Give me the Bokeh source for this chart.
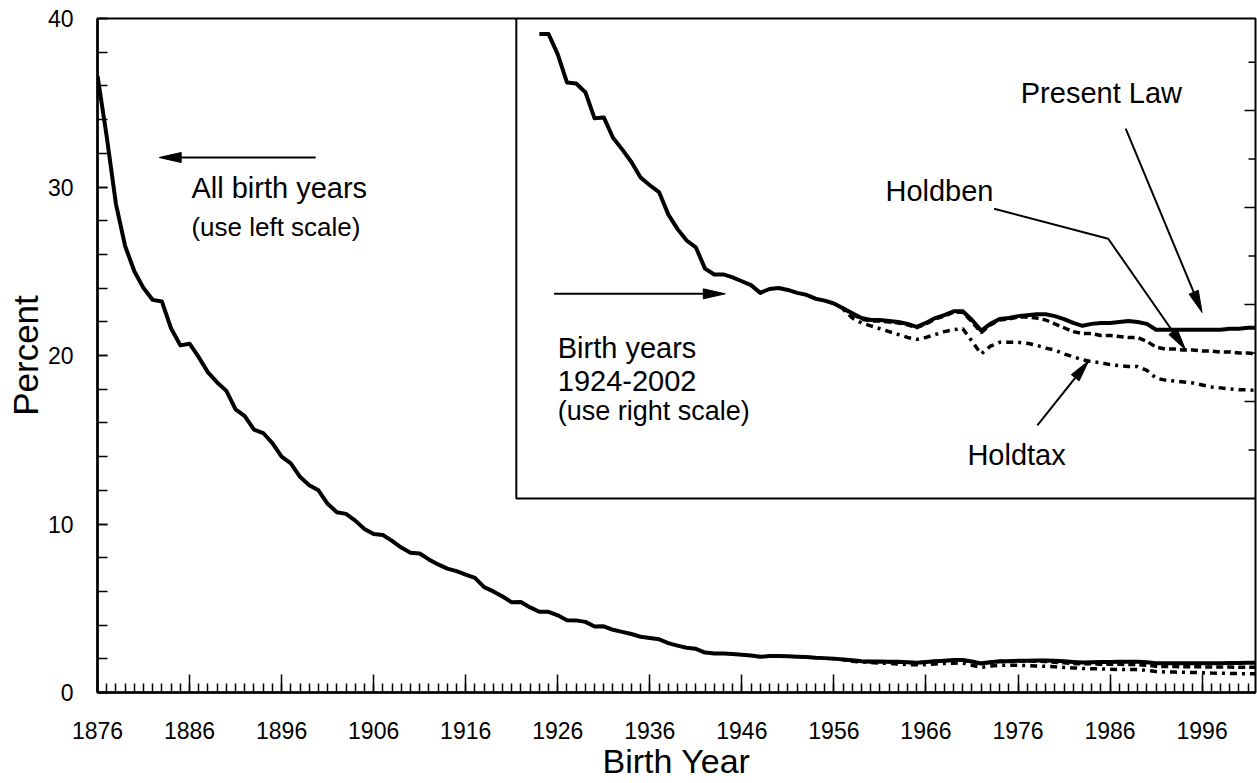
import math
from bokeh.plotting import figure
from bokeh.models import Range1d, FixedTicker, Label
from bokeh.embed import file_html
from bokeh.resources import INLINE

FONT = "Liberation Sans"

# ---------------- data ----------------
YEARS = list(range(1876, 2003))
PRESENT_LAW = [
    36.6, 33.0, 29.0, 26.5, 25.0, 24.0, 23.3, 23.2, 21.6, 20.6,   # 1876-1885
    20.7, 19.9, 19.0, 18.4, 17.9, 16.8, 16.4, 15.6, 15.4, 14.8,   # 1886-1895
    14.0, 13.6, 12.8, 12.3, 12.0, 11.2, 10.7, 10.6, 10.2, 9.7,    # 1896-1905
    9.4, 9.35, 9.0, 8.6, 8.3, 8.25, 7.9, 7.6, 7.35, 7.2,          # 1906-1915
    7.0, 6.8, 6.25, 6.0, 5.7, 5.35, 5.37, 5.05, 4.79, 4.79,       # 1916-1925
    4.58, 4.29, 4.28, 4.19, 3.92, 3.93, 3.72, 3.60, 3.47, 3.31,   # 1926-1935
    3.23, 3.16, 2.93, 2.78, 2.66, 2.59, 2.37, 2.31, 2.31, 2.28,   # 1936-1945
    2.24, 2.20, 2.12, 2.16, 2.17, 2.15, 2.12, 2.10, 2.06, 2.04,   # 1946-1955
    2.01, 1.96, 1.91, 1.86, 1.84, 1.84, 1.83, 1.82, 1.80, 1.77,   # 1956-1965
    1.81, 1.86, 1.89, 1.93, 1.93, 1.84, 1.73, 1.80, 1.85, 1.86,   # 1966-1975
    1.88, 1.89, 1.90, 1.90, 1.88, 1.85, 1.81, 1.78, 1.80, 1.81,   # 1976-1985
    1.81, 1.82, 1.83, 1.82, 1.80, 1.74, 1.74, 1.74, 1.74, 1.74,   # 1986-1995
    1.74, 1.74, 1.74, 1.75, 1.75, 1.76, 1.76,                     # 1996-2002
]
HOLD_YEARS = list(range(1957, 2003))
HOLDBEN = [
    1.96, 1.90, 1.85, 1.83, 1.83, 1.82, 1.81, 1.79, 1.76,         # 1957-1965
    1.80, 1.85, 1.88, 1.92, 1.92, 1.82, 1.71, 1.79, 1.84, 1.85,   # 1966-1975
    1.87, 1.87, 1.86, 1.84, 1.80, 1.76, 1.72, 1.70, 1.70, 1.68,   # 1976-1985
    1.68, 1.67, 1.66, 1.66, 1.62, 1.56, 1.54, 1.54, 1.53, 1.53,   # 1986-1995
    1.52, 1.52, 1.51, 1.51, 1.50, 1.50, 1.49,                     # 1996-2002
]
HOLDTAX = [
    1.95, 1.86, 1.81, 1.78, 1.75, 1.72, 1.69, 1.66, 1.64,         # 1957-1965
    1.66, 1.69, 1.72, 1.74, 1.75, 1.62, 1.49, 1.57, 1.61, 1.61,   # 1966-1975
    1.61, 1.60, 1.58, 1.55, 1.53, 1.49, 1.46, 1.43, 1.41, 1.40,   # 1976-1985
    1.38, 1.37, 1.36, 1.36, 1.32, 1.24, 1.22, 1.21, 1.20, 1.19,   # 1986-1995
    1.17, 1.15, 1.14, 1.13, 1.12, 1.12, 1.11,                     # 1996-2002
]
INSET_FIRST_YEAR = 1924

X_MAJOR_TICKS = list(range(1876, 2000, 10))
Y_MAJOR_TICKS = [0, 10, 20, 30, 40]
Y_MINOR_TICKS = list(range(0, 41, 2))
RIGHT_MAJOR_TICKS = [1, 2, 3, 4]
RIGHT_MINOR_TICKS = [0.5, 1.5, 2.5, 3.5, 4.5]

# ---------------- layout ----------------
W, H = 1257, 783
B_LEFT, B_RIGHT, B_TOP, B_BOTTOM = 97, 2, 18, 91
FRAME_W = W - B_LEFT - B_RIGHT
FRAME_H = H - B_TOP - B_BOTTOM
X_START, X_END = 1876, 2001.8
Y_START, Y_END = 0, 40
INSET_TOP = 4.95          # right-scale value at top of frame
INSET_FRAC = 0.712        # share of frame height covered by the inset box
INSET_BOTTOM = INSET_TOP - INSET_TOP / INSET_FRAC
INSET_LEFT_YEAR = 1921.5

PXX = FRAME_W / (X_END - X_START)
PXY = FRAME_H / (Y_END - Y_START)

p = figure(width=W, height=H, output_backend="svg", toolbar_location=None,
           x_range=Range1d(X_START, X_END), y_range=Range1d(Y_START, Y_END),
           min_border_left=B_LEFT, min_border_right=B_RIGHT,
           min_border_top=B_TOP, min_border_bottom=B_BOTTOM,
           background_fill_color="white", border_fill_color="white")
p.extra_y_ranges = {"inset": Range1d(INSET_BOTTOM, INSET_TOP)}
p.xgrid.visible = False
p.ygrid.visible = False
p.outline_line_color = "black"
p.outline_line_width = 2

xa = p.xaxis[0]
xa.ticker = FixedTicker(ticks=X_MAJOR_TICKS, minor_ticks=YEARS)
ya = p.yaxis[0]
ya.ticker = FixedTicker(ticks=Y_MAJOR_TICKS, minor_ticks=Y_MINOR_TICKS)
for ax in (xa, ya):
    ax.axis_line_color = "black"
    ax.axis_line_width = 2.5
    ax.major_tick_line_color = "black"
    ax.minor_tick_line_color = "black"
    ax.major_tick_line_width = 1.5
    ax.minor_tick_line_width = 1.5
    ax.major_tick_out = 0
    ax.minor_tick_out = 0
    ax.major_label_text_font = FONT
    ax.major_label_text_font_size = "23px"
    ax.major_label_text_color = "black"
    ax.axis_label_text_font = FONT
    ax.axis_label_text_font_style = "normal"
    ax.axis_label_text_color = "black"
xa.major_tick_in = 18
xa.minor_tick_in = 9
xa.major_label_standoff = 29
xa.axis_label = "Birth Year"
xa.axis_label_text_font_size = "34px"
xa.axis_label_standoff = 0
ya.major_tick_in = 10
ya.minor_tick_in = 10
ya.major_label_standoff = 24
ya.axis_label = "Percent"
ya.axis_label_text_font_size = "35px"
ya.axis_label_standoff = 0

# ---------------- series (main, left scale) ----------------
p.line(HOLD_YEARS, HOLDTAX, line_width=3.5, color="black", line_dash="3 5 7 5")
p.line(HOLD_YEARS, HOLDBEN, line_width=3.5, color="black", line_dash="7 4")
p.line(YEARS, PRESENT_LAW, line_width=4, color="black", line_join="round")

# ---------------- inset (right scale) ----------------
i0 = YEARS.index(INSET_FIRST_YEAR)
p.line([INSET_LEFT_YEAR, INSET_LEFT_YEAR, X_END], [INSET_TOP, 0, 0],
       y_range_name="inset", line_width=2, color="black")
# right-scale tick marks (scale labels lie outside the visible area)
p.segment(x0=[X_END] * len(RIGHT_MAJOR_TICKS), y0=RIGHT_MAJOR_TICKS,
          x1=[X_END - 11 / PXX] * len(RIGHT_MAJOR_TICKS), y1=RIGHT_MAJOR_TICKS,
          y_range_name="inset", line_width=1.5, color="black")
p.segment(x0=[X_END] * len(RIGHT_MINOR_TICKS), y0=RIGHT_MINOR_TICKS,
          x1=[X_END - 7 / PXX] * len(RIGHT_MINOR_TICKS), y1=RIGHT_MINOR_TICKS,
          y_range_name="inset", line_width=1.5, color="black")
p.line(HOLD_YEARS, HOLDTAX, y_range_name="inset", line_width=3.5, color="black",
       line_dash="3 5 7 5")
p.line(HOLD_YEARS, HOLDBEN, y_range_name="inset", line_width=3.5, color="black",
       line_dash="7 4")
p.line(YEARS[i0:], PRESENT_LAW[i0:], y_range_name="inset", line_width=4,
       color="black", line_join="round")

# ---------------- annotations (left-scale data coordinates) ----------------
def add_text(x, y, text, size):
    p.add_layout(Label(x=x, y=y, text=text, text_font=FONT, text_font_size=size,
                       text_color="black", text_baseline="alphabetic",
                       text_align="left"))

add_text(1886.2, 29.97, "All birth years", "29px")
add_text(1886.2, 27.65, "(use left scale)", "26px")
add_text(1926.0, 20.42, "Birth years", "29px")
add_text(1926.0, 18.51, "1924-2002", "29px")
add_text(1926.0, 16.71, "(use right scale)", "27px")
add_text(1976.3, 35.6, "Present Law", "29px")
add_text(1961.6, 29.77, "Holdben", "29px")
add_text(1970.5, 14.07, "Holdtax", "29px")

# arrows: polyline shafts ending at a tip
ARROWS = [
    [(1899.7, 31.75), (1882.7, 31.75)],
    [(1925.6, 23.66), (1944.2, 23.66)],
    [(1987.7, 33.47), (1996.0, 22.55)],
    [(1973.4, 28.71), (1985.8, 26.93), (1994.2, 20.34)],
    [(1978.1, 15.85), (1983.7, 19.70)],
]


def head(tail, tip, length=22.0, width=10.0):
    dx = (tip[0] - tail[0]) * PXX
    dy = (tip[1] - tail[1]) * PXY
    n = math.hypot(dx, dy)
    ux, uy = dx / n, dy / n
    bx, by = -ux * length, -uy * length
    qx, qy = -uy * width / 2, ux * width / 2
    pts = [(0, 0), (bx + qx, by + qy), (bx - qx, by - qy)]
    return ([tip[0] + a / PXX for a, _ in pts], [tip[1] + b / PXY for _, b in pts])


shaft_xs, shaft_ys, head_xs, head_ys = [], [], [], []
for pts in ARROWS:
    tail, tip = pts[-2], pts[-1]
    hx, hy = head(tail, tip)
    base = ((hx[1] + hx[2]) / 2, (hy[1] + hy[2]) / 2)
    shaft_xs.append([q[0] for q in pts[:-1]] + [base[0]])
    shaft_ys.append([q[1] for q in pts[:-1]] + [base[1]])
    head_xs.append(hx)
    head_ys.append(hy)

p.multi_line(shaft_xs, shaft_ys, line_width=2, color="black")
p.patches(head_xs, head_ys, fill_color="black", line_color="black", line_width=1)

open("out.html", "w").write(file_html(p, INLINE))
